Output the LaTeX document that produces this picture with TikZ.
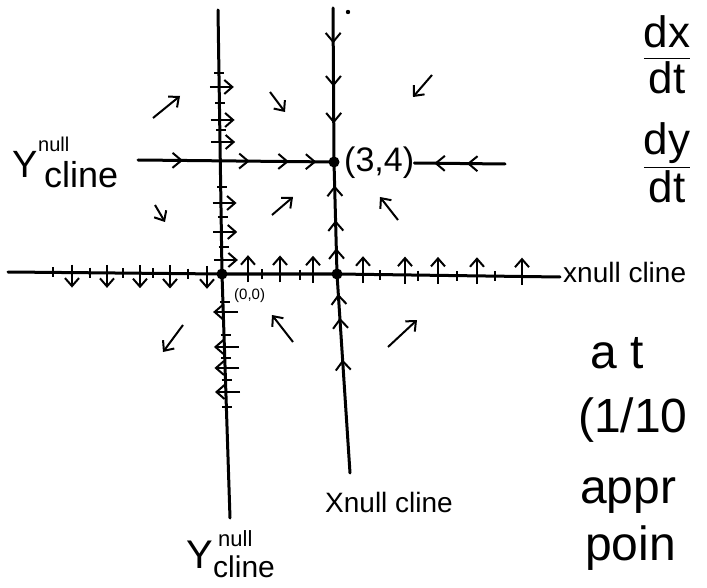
\documentclass[tikz,border=0pt]{standalone}
\usepackage{amsmath}
\usepackage{fontspec}
\setmainfont{Liberation Sans}
\usetikzlibrary{arrows.meta,calc,decorations.markings}

\tikzset{
  nullc/.style={line width=3pt, line cap=round},
  fld/.style={line width=2pt, -{Straight Barb[length=8pt,width=14pt]}},
  tk/.style={line width=2pt},
  chev/.style={postaction={decorate, decoration={markings,
      mark=at position #1 with {\arrow[line width=2pt]{Straight Barb[length=9pt,width=15pt]}}}}},
  lbl/.style={inner sep=0pt, font=\fontsize{#1}{#1}\selectfont},
}

\begin{document}
\begin{tikzpicture}[x=1pt, y=-1pt]
    \useasboundingbox (0,0) rectangle (707,588);
    % points
    \coordinate (yt) at (218,10);
    \coordinate (O) at (222,274);
    \coordinate (yb) at (230,518);
    \coordinate (xt) at (333,8);
    \coordinate (P) at (334,162);
    \coordinate (Q) at (337,274);
    \coordinate (xb) at (350,473);
    \coordinate (hl) at (138,160);
    \coordinate (hr) at (505,164);
    \coordinate (xl) at (8,272);
    \coordinate (xr) at (560,277);
    \node[lbl=34, anchor=west] (pt34) at (344,163) {(3,4)};
    % nullclines
    \draw[nullc] (yt) -- (O) -- (yb);
    \draw[nullc] (xl) -- (O) -- (Q) -- (xr);
    \draw[nullc, chev=0.23, chev=0.51, chev=0.75] (xt) -- (P);
    \draw[nullc, chev=0.23, chev=0.48, chev=0.79] (Q) -- (P);
    \draw[nullc, chev=0.57, chev=0.78, chev=0.9] (xb) -- (Q);
    \draw[nullc, chev=0.23, chev=0.57, chev=0.77, chev=0.91] (hl) -- (P);
    \draw[nullc, chev=0.42, chev=0.78] (hr) -- (pt34.east);
    \foreach \c in {O,P,Q}{\fill (\c) circle (5.5pt);}
    \fill (348,12) circle (2.2pt);
    % ticks on the y nullcline
    \foreach \v in {73,103,130,187,217,247,302,335,358,380,407}
      \draw[tk] ($(yt)!{(\v-10)/508}!(yb)$) +(-5,0) -- +(5,0);
    \foreach \v in {87,120,142,203,232,260}
      \draw[fld] ($(yt)!{(\v-10)/508}!(yb)$) +(-10,0) -- +(14,0);
    \foreach \v in {312,347,368,392}
      \draw[fld] ($(yt)!{(\v-10)/508}!(yb)$) +(13,0) -- +(-12,0);
    % ticks on the x nullcline
    \foreach \u in {53,90,123,153,188,262,300,380,418,457,495}
      \draw[tk] ($(xl)!{(\u-8)/552}!(xr)$) +(0,-5) -- +(0,5);
    \foreach \u in {72,107,140,170,207}
      \draw[fld] ($(xl)!{(\u-8)/552}!(xr)$) +(0,-8) -- +(0,15);
    \foreach \u in {248,280,313,363,405,438,477,522}
      \draw[fld] ($(xl)!{(\u-8)/552}!(xr)$) +(0,8) -- +(0,-19);
    % field
    \draw[fld] (153,118) -- (180,96);
    \draw[fld] (270,92) -- (285,112);
    \draw[fld] (432,75) -- (413,97);
    \draw[fld] (155,205) -- (165,222);
    \draw[fld] (272,215) -- (293,197);
    \draw[fld] (398,220) -- (380,197);
    \draw[fld] (183,325) -- (163,352);
    \draw[fld] (293,342) -- (272,315);
    \draw[fld] (388,347) -- (417,320);
    % labels
    \node[lbl=38, anchor=base west] (ylY) at (12,178) {Y};
    \node[lbl=20, anchor=base west] (ylnull) at (38,152) {null};
    \node[lbl=36, anchor=base west] (ylcline) at (44,188) {cline};
    \node[lbl=15, anchor=west] (org) at (234,296) {(0,0)};
    \node[lbl=28, anchor=west] (xnc) at (563,272) {xnull cline};
    \node[lbl=28, anchor=base west] (xncb) at (325,512) {Xnull cline};
    \node[lbl=40, anchor=base west] (ybY) at (186,568) {Y};
    \node[lbl=22, anchor=base west] (ybnull) at (218,546) {null};
    \node[lbl=30, anchor=base west] (ybcline) at (213,577) {cline};
    \node[lbl=44] (dxdt) at (667,55) {$\dfrac{\text{dx}}{\text{dt}}$};
    \node[lbl=44] (dydt) at (667,163) {$\dfrac{\text{dy}}{\text{dt}}$};
    \node[lbl=48, anchor=base west] (ta) at (590,368) {a t};
    \node[lbl=48, anchor=base west] (tb) at (578,432) {(1/10};
    \node[lbl=48, anchor=base west] (tc) at (580,503) {appr};
    \node[lbl=48, anchor=base west] (td) at (585,560) {poin};
\end{tikzpicture}
\end{document}
